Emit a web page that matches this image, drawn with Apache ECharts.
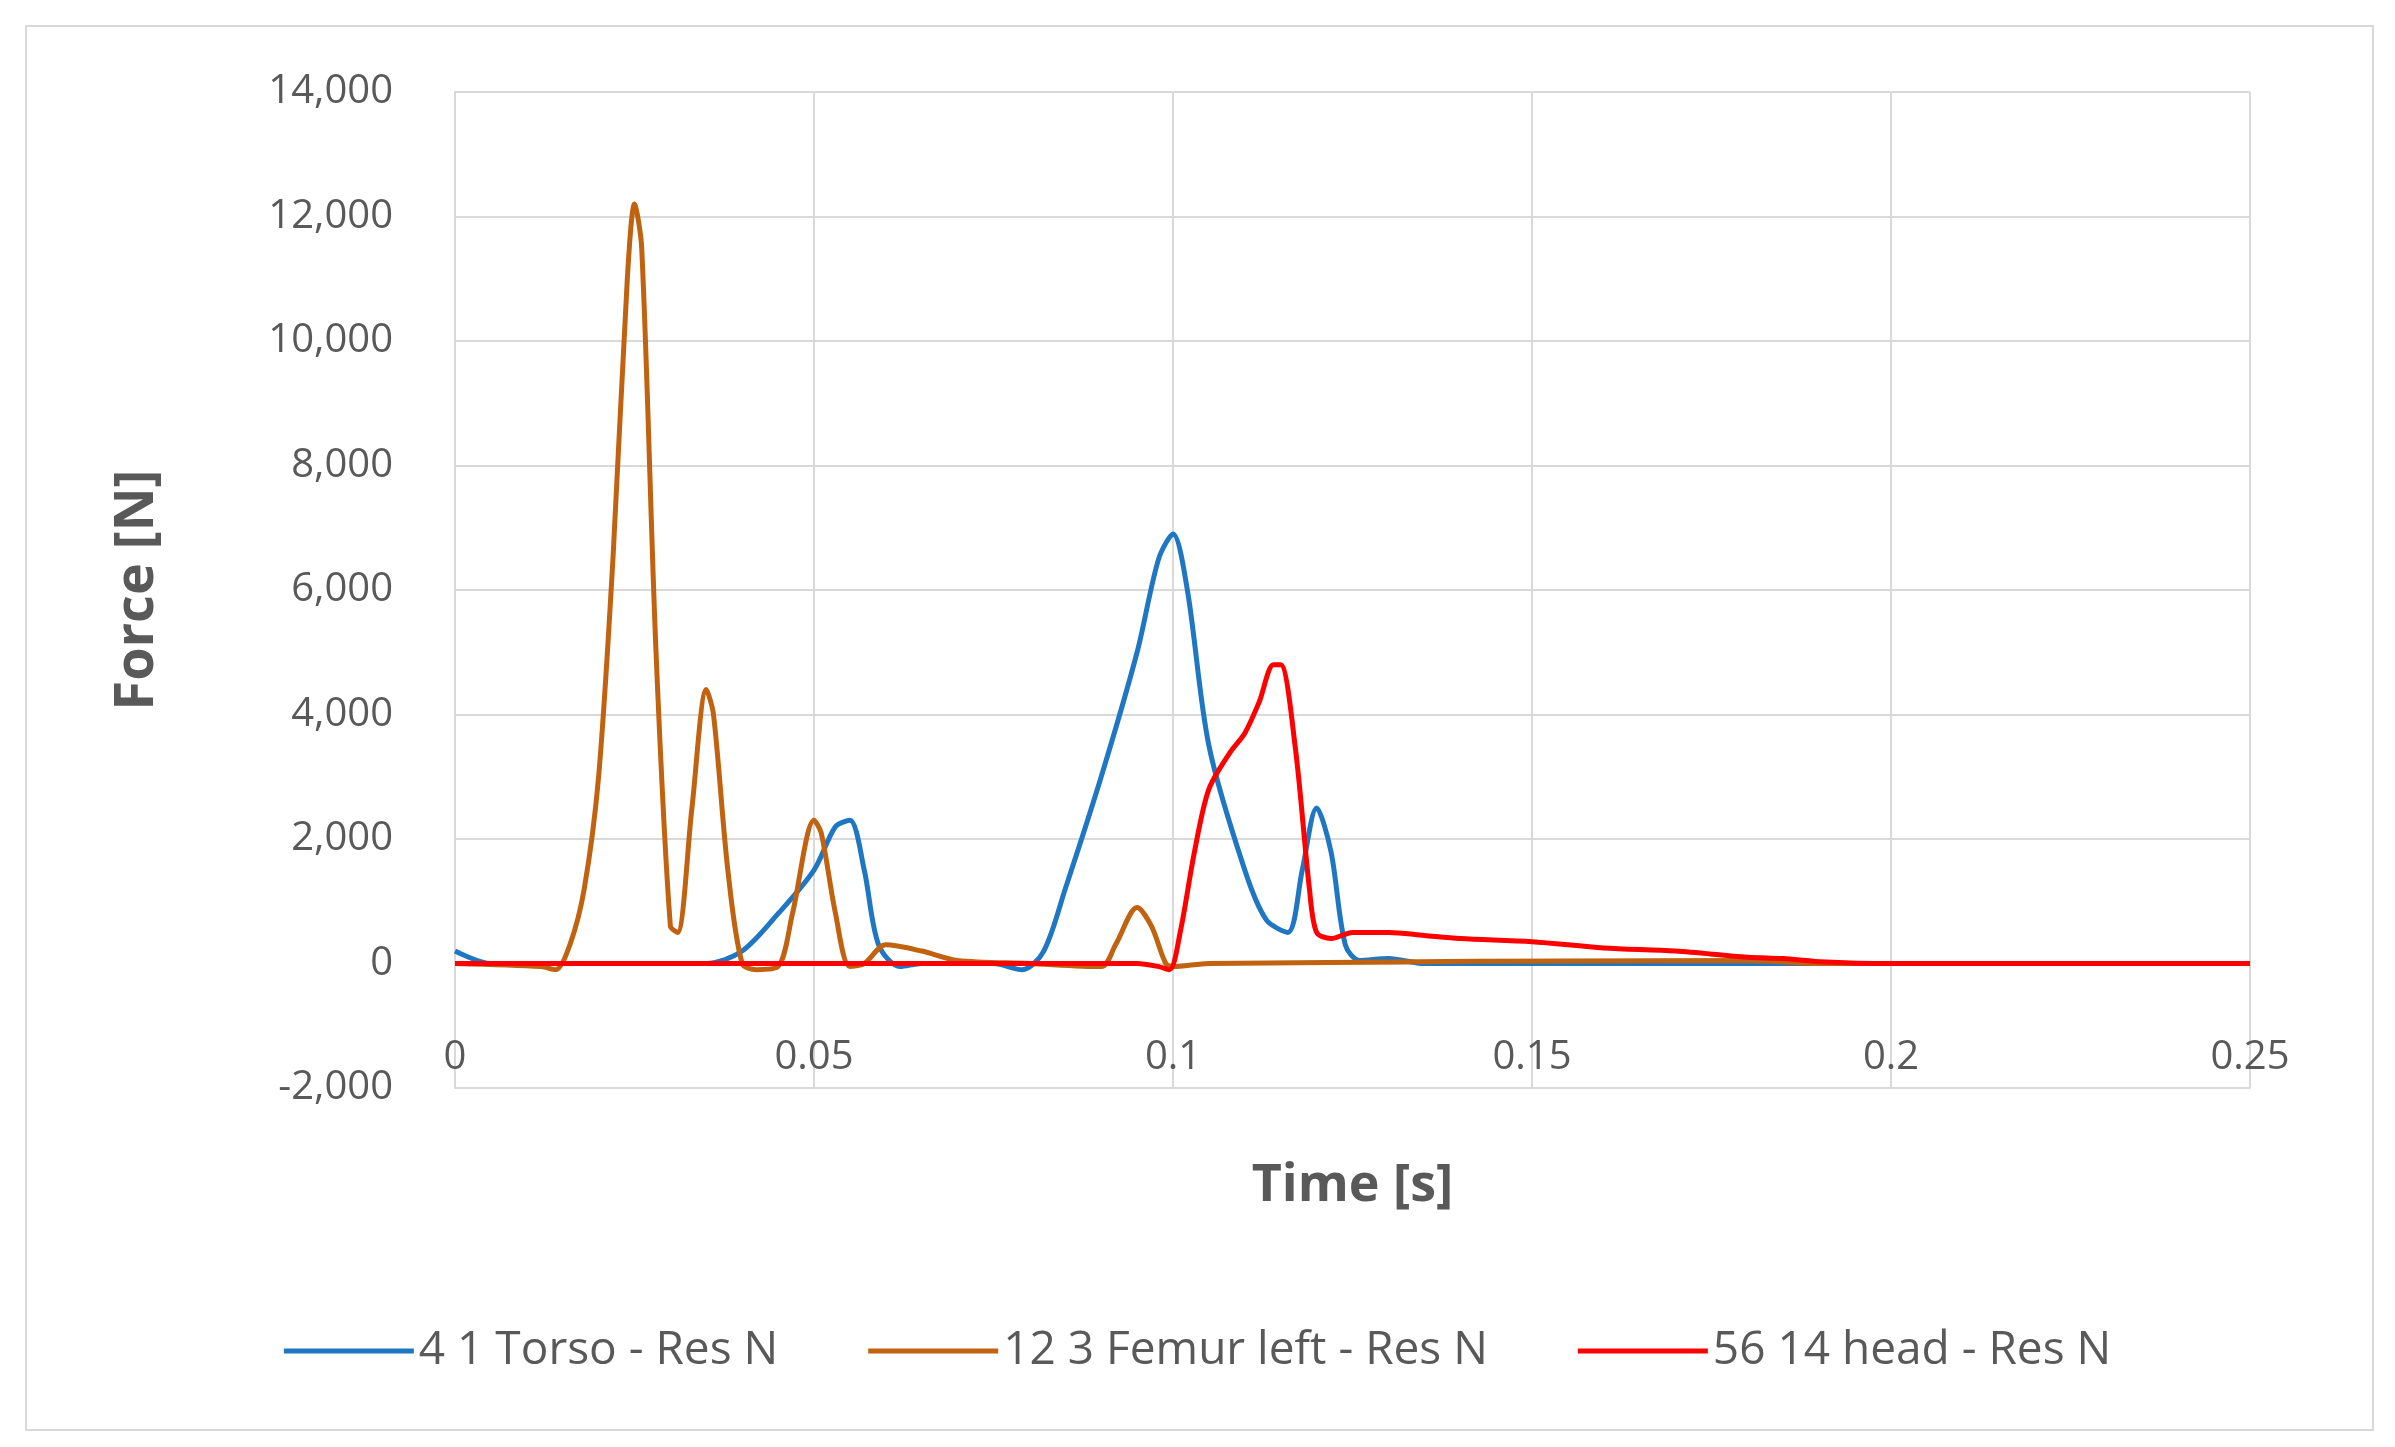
<!DOCTYPE html>
<html>
<head>
<meta charset="utf-8">
<script src="https://cdn.jsdelivr.net/npm/echarts@6/dist/echarts.min.js"></script>
<style>
html,body{margin:0;padding:0;background:#fff;}
#frame{position:absolute;left:25px;top:25px;width:2349px;height:1406px;border:2px solid #d9d9d9;box-sizing:border-box;}
#chart{width:2395px;height:1447px;}
</style>
</head>
<body>
<div id="frame"></div>
<div id="chart"></div>
<script>
// [time s, force N]
var torso = [[0,200],[0.005,0],[0.035,0],[0.04,200],[0.045,800],[0.05,1500],[0.053,2200],[0.055,2300],[0.057,1500],[0.059,300],[0.062,-50],[0.065,0],[0.075,0],[0.079,-100],[0.082,200],[0.085,1200],[0.09,3000],[0.095,5000],[0.098,6500],[0.1,6900],[0.102,6000],[0.105,3500],[0.11,1500],[0.113,700],[0.116,500],[0.118,1500],[0.12,2500],[0.122,1800],[0.124,300],[0.126,50],[0.13,80],[0.135,0],[0.25,0]];
var femur = [[0,0],[0.012,-50],[0.014,-100],[0.016,300],[0.018,1200],[0.02,3000],[0.022,6500],[0.024,11000],[0.025,12200],[0.026,11500],[0.028,5000],[0.03,600],[0.031,500],[0.033,2500],[0.035,4400],[0.036,4000],[0.038,1500],[0.04,0],[0.042,-100],[0.045,-50],[0.047,800],[0.05,2300],[0.051,2100],[0.053,800],[0.055,-50],[0.057,0],[0.06,300],[0.065,200],[0.07,50],[0.08,0],[0.09,-50],[0.092,300],[0.095,900],[0.097,600],[0.099,0],[0.1,-50],[0.105,0],[0.18,50],[0.19,0],[0.25,0]];
var head = [[0,0],[0.095,0],[0.098,-50],[0.0995,-100],[0.101,500],[0.103,1800],[0.105,2800],[0.108,3400],[0.11,3700],[0.112,4200],[0.114,4800],[0.115,4800],[0.117,3500],[0.119,1200],[0.12,500],[0.122,400],[0.125,500],[0.13,500],[0.135,450],[0.14,400],[0.15,350],[0.16,250],[0.17,200],[0.18,100],[0.185,80],[0.19,30],[0.2,0],[0.25,0]];
var seriesNames = ['4 1 Torso - Res N','12 3 Femur left - Res N','56 14 head - Res N'];
var seriesColors = ['#1f77c4','#c0620f','#ff0000'];

var chart = echarts.init(document.getElementById('chart'));
var lab = {color:'#595959', fontSize:40, fontFamily:'Open Sans'};
chart.setOption({
    animation: false,
    grid: {left: 455, right: 145, top: 92, bottom: 359},
    legend: {
        bottom: 68, itemWidth: 130, itemHeight: 5, itemGap: 90,
        textStyle: {color:'#595959', fontSize:46, fontFamily:'Open Sans'},
        data: seriesNames.map(function (n) { return {name: n, icon: 'rect'}; })
    },
    xAxis: {
        type: 'value', min: 0, max: 0.25, interval: 0.05,
        name: 'Time [s]', nameLocation: 'middle', nameGap: 72,
        nameTextStyle: {color:'#595959', fontSize:52, fontWeight:'bold', fontFamily:'Open Sans'},
        axisLine: {onZero: false, lineStyle: {color:'#d9d9d9', width: 2}},
        axisTick: {show: false},
        axisLabel: Object.assign({margin: -10, verticalAlign: 'bottom', align: 'center'}, lab),
        splitLine: {lineStyle: {color:'#d9d9d9', width: 2}}
    },
    yAxis: {
        type: 'value', min: -2000, max: 14000, interval: 2000,
        name: 'Force [N]', nameLocation: 'middle', nameGap: 290,
        nameTextStyle: {color:'#595959', fontSize:54, fontWeight:'bold', fontFamily:'Open Sans'},
        axisLine: {show: true, lineStyle: {color:'#d9d9d9', width: 2}},
        axisTick: {show: false},
        axisLabel: Object.assign({margin: 62, formatter: function (v) { return v.toLocaleString('en-US'); }}, lab),
        splitLine: {lineStyle: {color:'#d9d9d9', width: 2}}
    },
    series: [torso, femur, head].map(function (d, i) {
        return {name: seriesNames[i], type: 'line', data: d, smooth: 0.3, showSymbol: false,
                lineStyle: {width: 5, color: seriesColors[i]}, itemStyle: {color: seriesColors[i]}};
    })
});
</script>
</body>
</html>
